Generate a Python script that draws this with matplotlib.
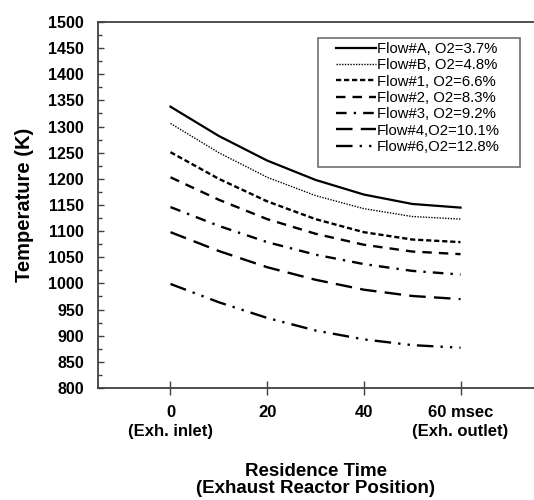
import matplotlib
matplotlib.use("Agg")
import matplotlib.pyplot as plt
from matplotlib.ticker import MultipleLocator
from matplotlib.patches import Rectangle

plt.rcParams['font.family'] = ['Liberation Sans', 'DejaVu Sans']

# residence time (msec) and temperatures (K)
time_ms = [0, 10, 20, 30, 40, 50, 60]
flow_a = [1338, 1282, 1235, 1198, 1170, 1152, 1145]
flow_b = [1306, 1250, 1203, 1168, 1143, 1128, 1123]
flow_1 = [1251, 1200, 1157, 1123, 1098, 1084, 1079]
flow_2 = [1203, 1160, 1123, 1095, 1074, 1061, 1056]
flow_3 = [1146, 1110, 1079, 1055, 1037, 1024, 1017]
flow_4 = [1098, 1062, 1031, 1007, 988, 976, 970]
flow_6 = [999, 964, 934, 910, 893, 882, 877]

labels = ['Flow#A, O2=3.7%', 'Flow#B, O2=4.8%', 'Flow#1, O2=6.6%',
          'Flow#2, O2=8.3%', 'Flow#3, O2=9.2%', 'Flow#4,O2=10.1%',
          'Flow#6,O2=12.8%']

xtick_vals = [0, 20, 40, 60]
xtick_labels = ['0\n(Exh. inlet)', '20', '40', '60 msec\n(Exh. outlet)']

series = [flow_a, flow_b, flow_1, flow_2, flow_3, flow_4, flow_6]
styles = [
    dict(ls='-', lw=1.6),
    dict(ls=(0, (1, 1)), lw=1.0),
    dict(ls=(0, (2.2, 1.2)), lw=1.7),
    dict(ls=(0, (4, 3)), lw=1.7),
    dict(ls=(0, (4.5, 3, 1, 3)), lw=1.7),
    dict(ls=(0, (7, 3.5)), lw=1.7),
    dict(ls=(0, (7, 3, 1, 3, 1, 3)), lw=1.7),
]

fig = plt.figure(figsize=(5.34, 5.0), dpi=100)
ax = fig.add_axes([0.1835, 0.224, 0.8165, 0.732])

for vals, lab, st in zip(series, labels, styles):
    ax.plot(time_ms, vals, color='black', label=lab, **st)

ax.set_xlim(-15, 75.2)
ax.set_ylim(800, 1500)
ax.yaxis.set_major_locator(MultipleLocator(50))
ax.yaxis.set_minor_locator(MultipleLocator(25))
ax.set_xticks(xtick_vals)
ax.set_xticklabels(xtick_labels, fontsize=12, fontweight='bold')
for t in ax.get_xticklabels():
    t.set_linespacing(1.4)
for t in ax.get_yticklabels():
    t.set_fontsize(11.5)
    t.set_fontweight('bold')

ax.tick_params(axis='y', which='major', direction='in', length=4, width=1, color='#404040', pad=10)
ax.tick_params(axis='y', which='minor', direction='in', length=3, width=1, color='#404040')
ax.tick_params(axis='x', which='major', direction='inout', length=10, width=1, color='#404040', pad=7)

ax.spines['right'].set_visible(False)
for s in ['left', 'top', 'bottom']:
    ax.spines[s].set_color('#404040')
    ax.spines[s].set_linewidth(1.3)

ax.set_ylabel('Temperature (K)', fontsize=14.5, fontweight='bold', labelpad=10)
ax.set_xlabel('Residence Time\n(Exhaust Reactor Position)', fontsize=13.5,
              fontweight='bold', labelpad=17, linespacing=1.0)

# legend box drawn separately so it can be wider than the entries
ax.add_patch(Rectangle((0.505, 0.605), 0.463, 0.351, transform=ax.transAxes,
                       facecolor='white', edgecolor='#707070', lw=1.2, zorder=4))
leg = ax.legend(loc='upper left', bbox_to_anchor=(0.546, 0.946), borderaxespad=0,
                fontsize=10.7, frameon=False, handlelength=2.7,
                handletextpad=0.05, labelspacing=0.16, borderpad=0)
leg.set_zorder(5)

fig.savefig('out.png', dpi=100)
